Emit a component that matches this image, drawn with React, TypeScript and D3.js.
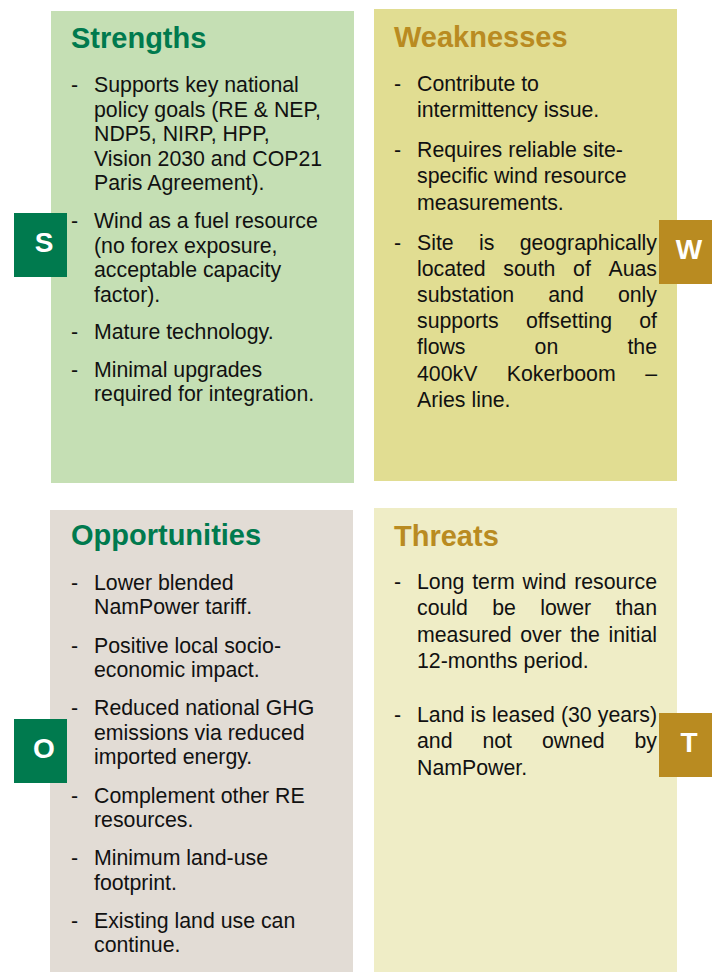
import React, { useEffect, useRef } from "react";
import * as d3 from "d3";

// quadrant content
const titles = ["Strengths", "Weaknesses", "Opportunities", "Threats"];
const letters = ["S", "W", "O", "T"];

const strengths = [
  ["Supports key national", "policy goals (RE & NEP,", "NDP5, NIRP, HPP,", "Vision 2030 and COP21", "Paris Agreement)."],
  ["Wind as a fuel resource", "(no forex exposure,", "acceptable capacity", "factor)."],
  ["Mature technology."],
  ["Minimal upgrades", "required for integration."],
];
const strengthsJustified = [false, false, false, false];

const weaknesses = [
  ["Contribute to", "intermittency issue."],
  ["Requires reliable site-", "specific wind resource", "measurements."],
  ["Site is geographically", "located south of Auas", "substation and only", "supports offsetting of", "flows on the", "400kV Kokerboom –", "Aries line."],
];
const weaknessesJustified = [false, false, true];

const opportunities = [
  ["Lower blended", "NamPower tariff."],
  ["Positive local socio-", "economic impact."],
  ["Reduced national GHG", "emissions via reduced", "imported energy."],
  ["Complement other RE", "resources."],
  ["Minimum land-use", "footprint."],
  ["Existing land use can", "continue."],
];
const opportunitiesJustified = [false, false, false, false, false, false];

const threats = [
  ["Long term wind resource", "could be lower than", "measured over the initial", "12-months period."],
  ["Land is leased (30 years)", "and not owned by", "NamPower."],
];
const threatsJustified = [true, true];

const GREEN = "#007a4e";
const GOLD = "#b98b21";

const layout = [
  { box: [51, 11, 303, 472], fill: "#c5dfb4", accent: GREEN, tag: [14, 213], titleY: 48, tx: 71, first: 92, line: 24.6, gap: 37.5, items: strengths, just: strengthsJustified },
  { box: [374, 9, 303, 472], fill: "#e1dd92", accent: GOLD, tag: [659, 220], titleY: 47, tx: 394, first: 91, line: 26.2, gap: 40, items: weaknesses, just: weaknessesJustified },
  { box: [50, 510, 303, 462], fill: "#e2dcd5", accent: GREEN, tag: [14, 719], titleY: 545, tx: 71, first: 590, line: 24.4, gap: 38.3, items: opportunities, just: opportunitiesJustified },
  { box: [374, 508, 303, 464], fill: "#efedc6", accent: GOLD, tag: [659, 713], titleY: 546, tx: 394, first: 589, line: 26.3, gap: 54.1, items: threats, just: threatsJustified },
];

const FONT = "'Liberation Sans', Arial, sans-serif";

export default function App() {
  const ref = useRef<SVGSVGElement>(null);

  useEffect(() => {
    document.body.style.margin = "0";
    const svg = d3.select(ref.current);
    svg.selectAll("*").remove();

    layout.forEach((q, qi) => {
      const [bx, by, bw, bh] = q.box;
      const g = svg.append("g");

      g.append("rect")
        .attr("x", bx).attr("y", by)
        .attr("width", bw).attr("height", bh)
        .attr("fill", q.fill);

      g.append("text")
        .text(titles[qi])
        .attr("x", q.tx).attr("y", q.titleY)
        .attr("font-family", FONT)
        .attr("font-weight", "bold")
        .attr("font-size", 29)
        .attr("fill", q.accent);

      const textX = q.tx + 23;
      const right = bx + bw - 20;
      let y = q.first;

      q.items.forEach((lines, ii) => {
        g.append("text")
          .text("-")
          .attr("x", q.tx).attr("y", y)
          .attr("font-family", FONT).attr("font-size", 21.3)
          .attr("fill", "#111");

        lines.forEach((ln, li) => {
          const justify = q.just[ii] && li < lines.length - 1;
          if (!justify) {
            g.append("text")
              .text(ln)
              .attr("x", textX).attr("y", y)
              .attr("font-family", FONT).attr("font-size", 21.3)
              .attr("fill", "#111");
          } else {
            // spread words over the full line width
            const words = ln.split(" ");
            const nodes = words.map((w) =>
              g.append("text")
                .text(w)
                .attr("y", y)
                .attr("font-family", FONT).attr("font-size", 21.3)
                .attr("fill", "#111")
            );
            const widths = nodes.map((n) => (n.node() as SVGTextElement).getComputedTextLength());
            const total = d3.sum(widths);
            const space = words.length > 1 ? (right - textX - total) / (words.length - 1) : 0;
            let x = textX;
            nodes.forEach((n, k) => {
              n.attr("x", x);
              x += widths[k] + space;
            });
          }
          if (li < lines.length - 1) y += q.line;
        });
        y += q.gap;
      });

      const [tx, ty] = q.tag;
      g.append("rect")
        .attr("x", tx).attr("y", ty)
        .attr("width", 53).attr("height", 64)
        .attr("fill", q.accent);
      g.append("text")
        .text(letters[qi])
        .attr("x", tx + 30).attr("y", ty + 39)
        .attr("text-anchor", "middle")
        .attr("font-family", FONT)
        .attr("font-weight", "bold")
        .attr("font-size", 28)
        .attr("fill", "#fff");
    });
  }, []);

  return <svg ref={ref} width={721} height={972} style={{ display: "block", background: "#fff" }} />;
}
